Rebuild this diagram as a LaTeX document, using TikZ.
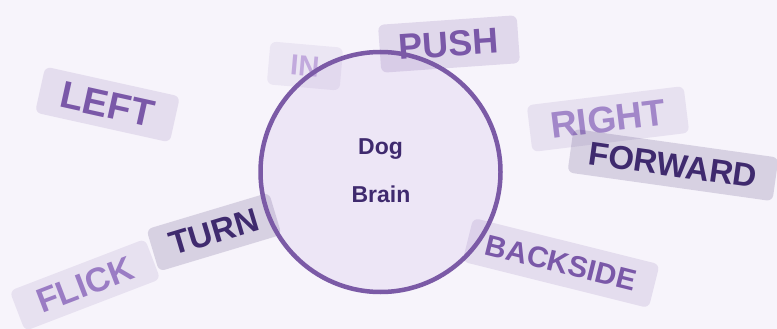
\documentclass[tikz,border=0pt]{standalone}
\usepackage{fontspec}
\setmainfont{Liberation Sans}
\definecolor{bgc}{HTML}{F7F4FB}
\definecolor{circfill}{HTML}{EDE6F6}
\definecolor{ring}{HTML}{7B5AA6}
\definecolor{midtxt}{HTML}{7A58A8}
\definecolor{intxt}{HTML}{C2AADD}
\definecolor{righttxt}{HTML}{A287C9}
\definecolor{flicktxt}{HTML}{9A7CC4}
\definecolor{darktxt}{HTML}{3F2A6E}
\definecolor{pbase}{HTML}{7B5AA6}
\definecolor{dbase}{HTML}{3F2A6B}
\begin{document}
\begin{tikzpicture}[x=1pt,y=-1pt,
  tag/.style={rounded corners=6pt, inner sep=0pt, align=center},
  ptag/.style={tag, fill=pbase, fill opacity=#1, text opacity=1},
  dtag/.style={tag, fill=dbase, fill opacity=#1, text opacity=1},
  fs/.style={font=\fontsize{#1}{#1}\selectfont\bfseries},
  braintxt/.style={anchor=base, text=darktxt, font=\fontsize{23}{23}\selectfont\bfseries}
]
\fill[bgc] (0,0) rectangle (777,329);
\useasboundingbox (0,0) rectangle (777,329);
\clip (0,0) rectangle (777,329);
% circle fill
\node[circle, fill=circfill, minimum size=240pt, inner sep=0pt] (brain) at (380.5,172) {};
% tags
\node[ptag=0.15, fs=38, text=midtxt, minimum width=138pt, minimum height=47pt, rotate=-12.5] (left) at (107.5,104.5) {LEFT};
\node[ptag=0.09, fs=29, text=intxt, minimum width=73pt, minimum height=43pt, rotate=-5] (in) at (305,66) {IN};
\node[ptag=0.18, fs=36, text=midtxt, minimum width=139pt, minimum height=48pt, rotate=4] (push) at (449,44) {PUSH};
\node[ptag=0.12, fs=37, text=righttxt, minimum width=158pt, minimum height=47pt, rotate=7] (right) at (608,119) {RIGHT};
\node[dtag=0.17, fs=33, text=darktxt, minimum width=207pt, minimum height=44pt, rotate=-8] (forward) at (673,165) {FORWARD};
\node[ptag=0.12, fs=34, text=flicktxt, minimum width=145pt, minimum height=43pt, rotate=21] (flick) at (85,285) {FLICK};
\node[dtag=0.17, fs=33, text=darktxt, minimum width=128pt, minimum height=44pt, rotate=16.7] (turn) at (214,232) {TURN};
\node[ptag=0.15, fs=29.5, text=midtxt, minimum width=192pt, minimum height=45pt, rotate=-14] (backside) at (561,263) {BACKSIDE};
% ring on top
\node[circle, draw=ring, line width=4.5pt, minimum size=240pt, inner sep=0pt] (brainring) at (brain) {};
% brain text
\node[braintxt] (dog) at (380.5,154) {Dog};
\node[braintxt] (brainlbl) at (381,202) {Brain};
\end{tikzpicture}
\end{document}
